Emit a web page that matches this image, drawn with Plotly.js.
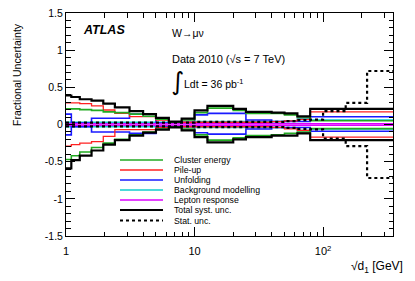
<!DOCTYPE html>
<html><head><meta charset="utf-8">
<script src="https://cdn.plot.ly/plotly-3.0.1.min.js"></script>
<style>html,body{margin:0;padding:0;background:#fff}#chart{width:415px;height:281px}</style>
</head><body><div id="chart"></div>
<script>
// Bin edges of sqrt(d1) [GeV]
const binEdges = [1, 1.1, 1.28, 1.58, 1.95, 2.4, 3.12, 3.98, 5.01, 6.31, 7.94, 10, 12.6, 15.8, 20, 25.1, 31.6, 39.8, 50.1, 63.1, 79.4, 100, 150, 220, 350];

const totalUp    = [0.39,0.37,0.34,0.32,0.28,0.23,0.18,0.14,0.09,0.04,0.08,0.19,0.25,0.25,0.21,0.17,0.17,0.16,0.15,0.11,0.21,0.21,0.21,0.21];
const totalDown  = [-0.59,-0.48,-0.42,-0.35,-0.27,-0.21,-0.15,-0.11,-0.07,-0.04,-0.08,-0.17,-0.24,-0.24,-0.2,-0.17,-0.17,-0.15,-0.15,-0.12,-0.21,-0.21,-0.21,-0.21];
const clusterUp  = [0.21,0.21,0.2,0.19,0.17,0.16,0.14,0.11,0.07,0.03,0.06,0.16,0.22,0.22,0.19,0.15,0.15,0.15,0.13,0.1,0.05,0.05,0.05,0.05];
const clusterDown= [-0.47,-0.42,-0.37,-0.31,-0.25,-0.2,-0.14,-0.1,-0.06,-0.03,-0.06,-0.14,-0.21,-0.21,-0.18,-0.15,-0.15,-0.14,-0.12,-0.1,-0.055,-0.055,-0.055,-0.055];
const pileupUp   = [0.29,0.29,0.28,0.25,0.195,0.15,0.105,0.105,0.06,0.03,0.03,0.03,0.03,0.03,0.03,0.03,0.03,0.04,0.05,0.07,0.17,0.17,0.17,0.17];
const pileupDown = [-0.29,-0.27,-0.25,-0.23,-0.16,-0.07,-0.07,-0.07,-0.04,-0.03,-0.03,-0.03,-0.03,-0.03,-0.03,-0.03,-0.03,-0.04,-0.06,-0.08,-0.17,-0.17,-0.17,-0.17];
const unfoldUp   = [0.14,0.02,0.02,0.085,0.085,0.085,0.14,0.14,0.02,0.02,0.03,0.13,0.15,0.15,0.15,0.06,0.06,0.04,0.04,0.04,0.105,0.105,0.105,0.105];
const unfoldDown = [-0.14,-0.03,-0.03,-0.1,-0.1,-0.1,-0.12,-0.12,-0.02,-0.02,-0.03,-0.11,-0.13,-0.13,-0.13,-0.06,-0.06,-0.04,-0.04,-0.04,-0.09,-0.09,-0.09,-0.09];
const bgUp       = [0.03,0.03,0.03,0.03,0.03,0.03,0.03,0.03,0.03,0.03,0.03,0.04,0.04,0.04,0.04,0.04,0.04,0.04,0.05,0.08,0.06,0.06,0.06,0.06];
const bgDown     = [-0.03,-0.03,-0.03,-0.03,-0.03,-0.03,-0.03,-0.03,-0.03,-0.03,-0.03,-0.04,-0.04,-0.04,-0.04,-0.04,-0.04,-0.04,-0.05,-0.08,-0.06,-0.06,-0.06,-0.06];
const lepUp      = [0.01,0.01,0.01,0.01,0.01,0.01,0.01,0.01,0.01,0.01,0.01,0.01,0.01,0.01,0.01,0.01,0.01,0.01,0.01,0.01,0.01,0.01,0.01,0.01];
const lepDown    = [-0.01,-0.01,-0.01,-0.01,-0.01,-0.01,-0.01,-0.01,-0.01,-0.01,-0.01,-0.01,-0.01,-0.01,-0.01,-0.01,-0.01,-0.01,-0.01,-0.01,-0.01,-0.01,-0.01,-0.01];
const statUp     = [0.025,0.025,0.025,0.025,0.025,0.025,0.025,0.025,0.025,0.025,0.025,0.035,0.035,0.035,0.035,0.035,0.035,0.035,0.045,0.06,0.065,0.18,0.29,0.72];
const statDown   = [-0.025,-0.025,-0.025,-0.025,-0.025,-0.025,-0.025,-0.025,-0.025,-0.025,-0.025,-0.035,-0.035,-0.035,-0.035,-0.035,-0.035,-0.035,-0.045,-0.06,-0.065,-0.19,-0.29,-0.72];

const seriesNames = ["Cluster energy","Pile-up","Unfolding","Background modelling","Lepton response","Total syst. unc.","Stat. unc."];
const yTickVals = [-1.5,-1,-0.5,0,0.5,1,1.5];
const yTickText = ["-1.5","-1","-0.5","0","0.5","1","1.5"];
const xTickVals = [1,10,100];
const xTickText = ["1","10","10<sup>2</sup>"];

const styles = [
  {color:'#22aa22', width:1.6, dash:'solid'},
  {color:'#ff2020', width:1.3, dash:'solid'},
  {color:'#1a1aff', width:1.6, dash:'solid'},
  {color:'#10cccc', width:1.6, dash:'solid'},
  {color:'#dd00ff', width:1.6, dash:'solid'},
  {color:'#000000', width:2.2, dash:'solid'},
  {color:'#000000', width:2.2, dash:'dot'}
];
const bands = [[clusterUp,clusterDown],[pileupUp,pileupDown],[unfoldUp,unfoldDown],[bgUp,bgDown],[lepUp,lepDown],[totalUp,totalDown],[statUp,statDown]];
const drawOrder = [3,2,1,0,5,4,6];

function stepY(v){ return v.concat([v[v.length-1]]); }
const traces = [];
drawOrder.forEach(i => {
  bands[i].forEach(vals => traces.push({
    x: binEdges, y: stepY(vals), mode:'lines', type:'scatter',
    line:{shape:'hv', color:styles[i].color, width:styles[i].width, dash:styles[i].dash},
    hoverinfo:'skip', showlegend:false, name: seriesNames[i]
  }));
});

const FONT = 'Liberation Sans, Arial, Helvetica, sans-serif';
const L = 66, R = 393, T = 13, B = 236, W = 415, H = 281;
const px = x => (x - L) / (R - L);
const py = y => (B - y) / (B - T);

const xMinor = [];
[1,10,100].forEach(d => { for (let k=2;k<=9;k++){ if (d*k < 350) xMinor.push(d*k); } });
const yMinor = [];
for (let k=-15;k<=15;k++){ if (k % 5 !== 0) yMinor.push(k/10); }

const shapes = [], annotations = [];
const rowY = [160,170,180,190,200,210,220.5];
seriesNames.forEach((n,i) => {
  shapes.push({type:'line', xref:'paper', yref:'paper', x0:px(120), x1:px(163), y0:py(rowY[i]), y1:py(rowY[i]),
    line:{color:styles[i].color, width:styles[i].width, dash:styles[i].dash}});
  annotations.push({xref:'paper', yref:'paper', x:px(172), y:py(rowY[i]), xanchor:'left', yanchor:'middle',
    text:n, showarrow:false, font:{family:FONT, size:8.7, color:'#000'}});
});

annotations.push({xref:'paper', yref:'paper', x:px(81), y:py(30), xanchor:'left', yanchor:'middle',
  text:'<b><i>ATLAS</i></b>', showarrow:false, font:{family:FONT, size:12.5, color:'#000'}});
annotations.push({xref:'paper', yref:'paper', x:px(170), y:py(33), xanchor:'left', yanchor:'middle',
  text:'W→μν', showarrow:false, font:{family:FONT, size:10.5, color:'#000'}});
annotations.push({xref:'paper', yref:'paper', x:px(170), y:py(59), xanchor:'left', yanchor:'middle',
  text:'Data 2010 (√s = 7 TeV)', showarrow:false, font:{family:FONT, size:11, color:'#000'}});
annotations.push({xref:'paper', yref:'paper', x:px(169), y:py(81), xanchor:'left', yanchor:'middle',
  text:'∫', showarrow:false, font:{family:'DejaVu Sans, sans-serif', size:25, color:'#000'}});
annotations.push({xref:'paper', yref:'paper', x:px(182), y:py(83), xanchor:'left', yanchor:'middle',
  text:'Ldt = 36 pb<sup>-1</sup>', showarrow:false, font:{family:FONT, size:10.5, color:'#000'}});
annotations.push({xref:'paper', yref:'paper', x:px(17), y:py(75), xanchor:'center', yanchor:'middle', textangle:-90,
  text:'Fractional Uncertainty', showarrow:false, font:{family:FONT, size:10.5, color:'#000'}});
annotations.push({xref:'paper', yref:'paper', x:px(405), y:py(267), xanchor:'right', yanchor:'middle',
  text:'√d<sub>1</sub> [GeV]', showarrow:false, font:{family:FONT, size:12, color:'#000'}});

const layout = {
  width:W, height:H, margin:{l:L, r:W-R, t:T, b:H-B, pad:0},
  paper_bgcolor:'#fff', plot_bgcolor:'#fff', showlegend:false,
  font:{family:FONT, size:10.5, color:'#000'},
  xaxis:{type:'log', range:[0, Math.log10(350)], tickmode:'array', tickvals:xTickVals, ticktext:xTickText,
    ticks:'inside', ticklen:9, tickwidth:1, tickcolor:'#000', showline:true, linecolor:'#000', linewidth:1,
    mirror:'allticks', showgrid:false, zeroline:false, tickfont:{family:FONT, size:11}, ticklabelstandoff:5,
    minor:{tickmode:'array', tickvals:xMinor, ticks:'inside', ticklen:4.5, tickcolor:'#000', showgrid:false}},
  yaxis:{range:[-1.5,1.5], tickmode:'array', tickvals:yTickVals, ticktext:yTickText,
    ticks:'inside', ticklen:9, tickwidth:1, tickcolor:'#000', showline:true, linecolor:'#000', linewidth:1,
    mirror:'allticks', showgrid:false, zeroline:false, tickfont:{family:FONT, size:10.5},
    minor:{tickmode:'array', tickvals:yMinor, ticks:'inside', ticklen:4.5, tickcolor:'#000', showgrid:false}},
  shapes:shapes, annotations:annotations
};

Plotly.newPlot('chart', traces, layout, {staticPlot:true, displayModeBar:false});
</script></body></html>
